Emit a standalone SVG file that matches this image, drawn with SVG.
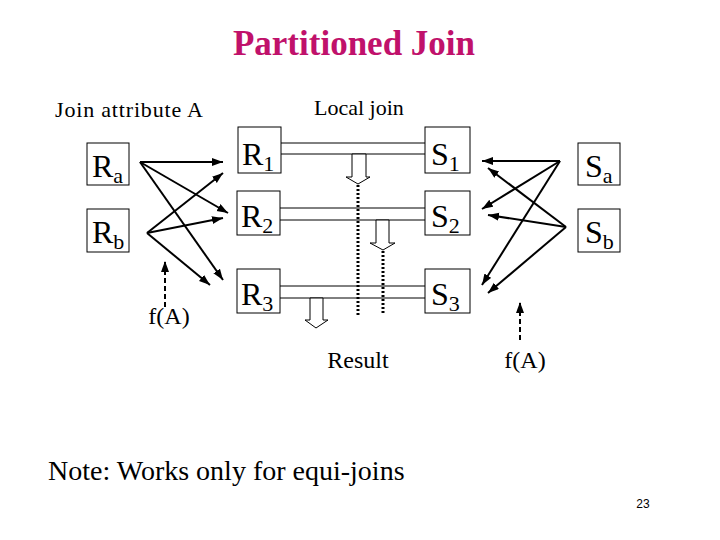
<svg xmlns="http://www.w3.org/2000/svg" width="720" height="540" viewBox="0 0 720 540">
<style>
text{font-family:"Liberation Serif","DejaVu Serif",serif;fill:#000}
.title{font-size:35px;font-weight:bold;fill:#c0116b}
.lbl{font-size:22px}
.lbl2{font-size:24px}
.big{font-size:32px}
.sub{font-size:22px}
.box{fill:#fff;stroke:#000;stroke-width:1}
.arr{stroke:#000;stroke-width:2;fill:none;marker-end:url(#ah)}
.dash{stroke:#000;stroke-width:2;fill:none;stroke-dasharray:5 3;marker-end:url(#ah)}
.dot{stroke:#000;stroke-width:3;fill:none;stroke-dasharray:2 2}
.rail{stroke:#000;stroke-width:1;fill:none}
.open{fill:#fff;stroke:#000;stroke-width:1}
</style>
<defs>
<marker id="ah" markerUnits="userSpaceOnUse" markerWidth="12" markerHeight="10" refX="11" refY="4" orient="auto">
<path d="M0,0 L11,4 L0,8 Z" fill="#000"/>
</marker>
</defs>
<rect width="720" height="540" fill="#fff"/>
<text class="title" x="354" y="55" text-anchor="middle">Partitioned Join</text>
<text class="lbl" x="55" y="117" textLength="148">Join attribute A</text>
<text class="lbl" x="314" y="115">Local join</text>

<g id="connectors">
<line class="rail" x1="281" y1="143" x2="425" y2="143"/>
<line class="rail" x1="281" y1="154" x2="425" y2="154"/>
<line class="rail" x1="280" y1="208" x2="425" y2="208"/>
<line class="rail" x1="280" y1="220" x2="425" y2="220"/>
<line class="rail" x1="280" y1="286" x2="425" y2="286"/>
<line class="rail" x1="280" y1="298" x2="425" y2="298"/>
<polygon class="open" points="352,154 366,154 366,177 370,177 358,184 346,177 352,177"/>
<polygon class="open" points="376,220 389,220 389,243 395,243 383,250 370,243 376,243"/>
<polygon class="open" points="310,298 323,298 323,320 328,320 316,328 305,320 310,320"/>
<line class="dot" x1="358" y1="185" x2="358" y2="315"/>
<line class="dot" x1="383" y1="251" x2="383" y2="315"/>
<line class="arr" x1="140" y1="162" x2="223" y2="162"/>
<line class="arr" x1="140" y1="162" x2="228" y2="213"/>
<line class="arr" x1="140" y1="162" x2="223" y2="280"/>
<line class="arr" x1="147" y1="233" x2="223" y2="173"/>
<line class="arr" x1="147" y1="233" x2="223" y2="218"/>
<line class="arr" x1="147" y1="233" x2="210" y2="285"/>
<line class="arr" x1="560" y1="161" x2="482" y2="161"/>
<line class="arr" x1="560" y1="161" x2="482" y2="209"/>
<line class="arr" x1="560" y1="161" x2="482" y2="285"/>
<line class="arr" x1="566" y1="227" x2="488" y2="168"/>
<line class="arr" x1="566" y1="227" x2="488" y2="215"/>
<line class="arr" x1="566" y1="227" x2="488" y2="293"/>
<line class="dash" x1="165" y1="307" x2="165" y2="261"/>
<line class="dash" x1="520" y1="340" x2="520" y2="302"/>
</g>

<g id="Ra"><rect class="box" x="87" y="143" width="42" height="42"/><text x="92" y="177"><tspan class="big">R</tspan><tspan class="sub" dy="6">a</tspan></text></g>
<g id="Rb"><rect class="box" x="87" y="209" width="42" height="43"/><text x="92" y="243"><tspan class="big">R</tspan><tspan class="sub" dy="6">b</tspan></text></g>
<g id="R1"><rect class="box" x="238" y="127" width="43" height="46"/><text x="242" y="165"><tspan class="big">R</tspan><tspan class="sub" dy="6">1</tspan></text></g>
<g id="R2"><rect class="box" x="237" y="191" width="43" height="44"/><text x="241" y="227"><tspan class="big">R</tspan><tspan class="sub" dy="6">2</tspan></text></g>
<g id="R3"><rect class="box" x="237" y="269" width="43" height="44"/><text x="241" y="305"><tspan class="big">R</tspan><tspan class="sub" dy="6">3</tspan></text></g>
<g id="S1"><rect class="box" x="425" y="127" width="45" height="46"/><text x="431" y="165"><tspan class="big">S</tspan><tspan class="sub" dy="6">1</tspan></text></g>
<g id="S2"><rect class="box" x="425" y="191" width="45" height="44"/><text x="431" y="227"><tspan class="big">S</tspan><tspan class="sub" dy="6">2</tspan></text></g>
<g id="S3"><rect class="box" x="425" y="269" width="45" height="44"/><text x="431" y="305"><tspan class="big">S</tspan><tspan class="sub" dy="6">3</tspan></text></g>
<g id="Sa"><rect class="box" x="578" y="143" width="42" height="42"/><text x="585" y="177"><tspan class="big">S</tspan><tspan class="sub" dy="6">a</tspan></text></g>
<g id="Sb"><rect class="box" x="578" y="209" width="42" height="43"/><text x="585" y="243"><tspan class="big">S</tspan><tspan class="sub" dy="6">b</tspan></text></g>

<text class="lbl2" x="169" y="324" text-anchor="middle">f(A)</text>
<text class="lbl2" x="525" y="368" text-anchor="middle">f(A)</text>
<text class="lbl2" x="358" y="368" text-anchor="middle">Result</text>
<text x="48" y="480" style="font-size:28px">Note: Works only for equi-joins</text>
<text x="643" y="508" text-anchor="middle" style="font-family:'Liberation Sans',Arial,sans-serif;font-size:12px">23</text>
</svg>
